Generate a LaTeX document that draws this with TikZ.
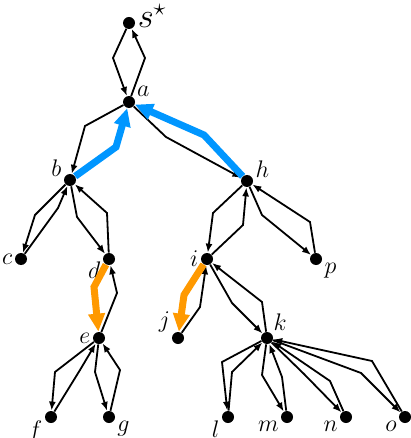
\documentclass[tikz,border=0pt]{standalone}
\usepackage{tikz}
\usetikzlibrary{arrows.meta}
\definecolor{hlBlue}{RGB}{0,150,255}
\definecolor{hlOrange}{RGB}{255,153,0}

\begin{document}
\begin{tikzpicture}[x=0.5pt, y=-0.5pt,
  vtx/.style={circle, fill=black, inner sep=0pt, minimum size=6pt},
  lbl/.style={font=\large, inner sep=1pt},
  arrow/.style={-{Latex[length=4.5pt, width=3.5pt]}, line width=0.9pt},
  hlarrow/.style={-{Triangle[length=9pt, width=8pt]}, line width=3.5pt},
]
  \useasboundingbox (0,0) rectangle (411,438);

  % Vertices, top to bottom
  \node[vtx, label={[lbl, font=\LARGE, anchor=base west, yshift=-2.5pt]0:$s^\star$}] (s) at (129,23) {};
  \node[vtx, label={[lbl]27:$a$}] (a) at (129,102) {};
  \node[vtx, label={[lbl]172:$b$}] (b) at (70,180) {};
  \node[vtx, label={[lbl]8:$h$}] (h) at (247,181) {};
  \node[vtx, label={[lbl]180:$c$}] (c) at (21,259) {};
  \node[vtx, label={[lbl]185:$d$}] (d) at (109,259) {};
  \node[vtx, label={[lbl]180:$i$}] (i) at (207,259) {};
  \node[vtx, label={[lbl]-12:$p$}] (p) at (316,259) {};
  \node[vtx, label={[lbl]180:$e$}] (e) at (99,338) {};
  \node[vtx, label={[lbl]150:$j$}] (j) at (178,338) {};
  \node[vtx, label={[lbl]50:$k$}] (k) at (267,338) {};
  \node[vtx, label={[lbl]192:$f$}] (f) at (51,417) {};
  \node[vtx, label={[lbl]-20:$g$}] (g) at (109,417) {};
  \node[vtx, label={[lbl]192:$l$}] (l) at (228,417) {};
  \node[vtx, label={[lbl]200:$m$}] (m) at (287,417) {};
  \node[vtx, label={[lbl]200:$n$}] (n) at (346,417) {};
  \node[vtx, label={[lbl]200:$o$}] (o) at (405,417) {};

  % Down and up moves along each edge
  \draw[arrow] (s) -- (113,58) -- (a);
  \draw[arrow] (a) -- (145,58) -- (s);
  \draw[arrow] (a) -- (85,126) -- (b);
  \draw[arrow] (a) -- (166,137) -- (h);

  \draw[arrow] (b) -- (35,215) -- (c);
  \draw[arrow] (c) -- (58,208) -- (b);
  \draw[arrow] (b) -- (77,217) -- (d);
  \draw[arrow] (d) -- (107,213) -- (b);

  \draw[arrow] (h) -- (213,213) -- (i);
  \draw[arrow] (i) -- (243,225) -- (h);
  \draw[arrow] (h) -- (262,215) -- (p);
  \draw[arrow] (p) -- (310,222) -- (h);

  \draw[arrow] (e) -- (117,293) -- (d);
  \draw[arrow] (e) -- (55,372) -- (f);
  \draw[arrow] (f) -- (80,370) -- (e);
  \draw[arrow] (e) -- (95,372) -- (g);
  \draw[arrow] (g) -- (120,370) -- (e);

  \draw[arrow] (j) -- (200,307) -- (i);
  \draw[arrow] (i) -- (232,303) -- (k);
  \draw[arrow] (k) -- (262,302) -- (i);

  \draw[arrow] (k) -- (222,362) -- (l);
  \draw[arrow] (l) -- (232,372) -- (k);
  \draw[arrow] (k) -- (262,375) -- (m);
  \draw[arrow] (m) -- (282,377) -- (k);
  \draw[arrow] (k) -- (304,374) -- (n);
  \draw[arrow] (n) -- (330,381) -- (k);
  \draw[arrow] (k) -- (361,373) -- (o);
  \draw[arrow] (o) -- (372,361) -- (k);

  % Highlighted moves
  \draw[hlarrow, hlBlue] (b) -- (116,147) -- (a);
  \draw[hlarrow, hlBlue] (h) -- (204,135) -- (a);
  \draw[hlarrow, hlOrange] (d) -- (94,287) -- (e);
  \draw[hlarrow, hlOrange] (i) -- (184,295) -- (j);
\end{tikzpicture}
\end{document}
